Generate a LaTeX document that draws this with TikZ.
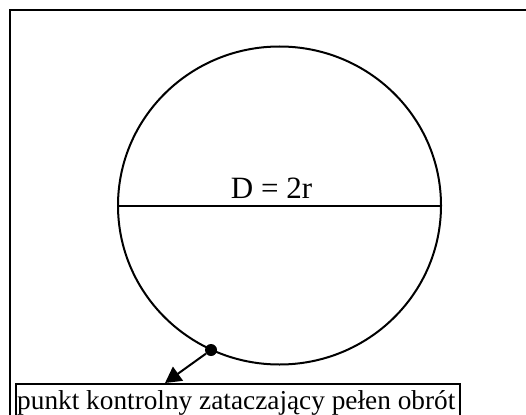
\documentclass[tikz,border=0pt]{standalone}
\usepackage{fontspec}
\setmainfont{Liberation Serif}
\usetikzlibrary{shapes.geometric,arrows.meta}
\begin{document}
\begin{tikzpicture}[x=1pt,y=-1pt,
  frame/.style={draw=black,line width=2.4pt},
  labelbox/.style={draw=black,line width=1.5pt,anchor=north west,inner sep=0pt,minimum width=444pt,minimum height=45pt},
  circ/.style={draw=black,line width=2pt,ellipse,inner sep=0pt,minimum width=323pt,minimum height=318pt},
  dotpt/.style={circle,fill=black,inner sep=0pt,minimum size=12pt},
  txt/.style={font=\fontsize{27.3}{30}\selectfont,inner sep=0pt}]
\useasboundingbox (0,0) rectangle (526,414);
\fill[white] (0,0) rectangle (526,414);
\draw[frame] (10,440) -- (10,10) -- (560,10);
\node[circ] (c) at (279.5,205.5) {};
\draw[line width=2pt] (c.west) -- (c.east);
\node[txt,anchor=base,font=\fontsize{31}{34}\selectfont] (d) at (271.5,198) {D = 2r};
\node[dotpt] (p) at (211,350) {};
\node[labelbox] (box) at (15,383) {};
\node[txt,anchor=base west] (lbl) at (17,409) {punkt kontrolny zataczający pełen obrót};
\coordinate (tip) at (165,383);
\draw[line width=2pt,-{Triangle[length=16pt,width=17pt]}] (p) -- (tip);
\end{tikzpicture}
\end{document}
